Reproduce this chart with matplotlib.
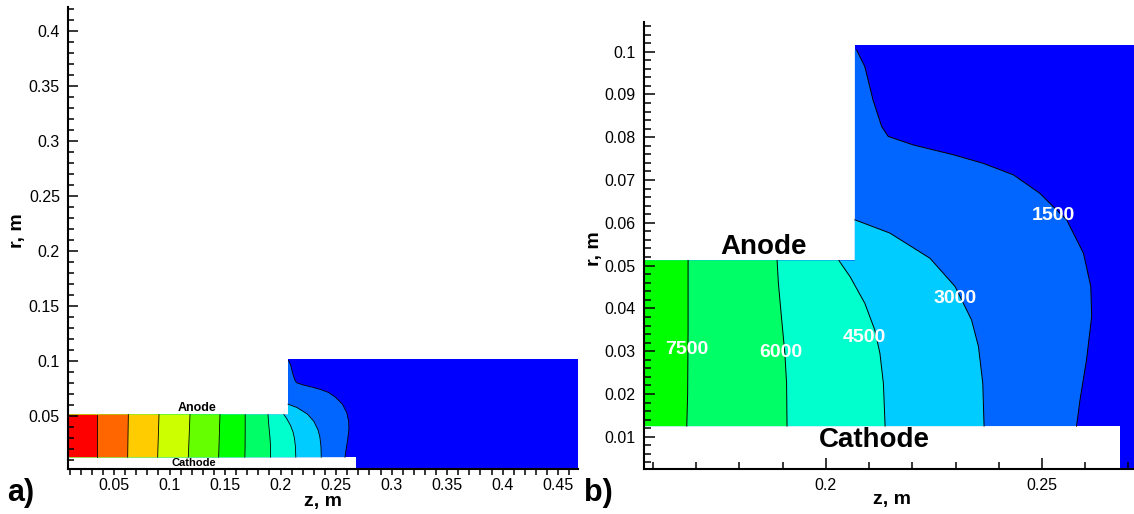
import matplotlib.pyplot as plt
from matplotlib.ticker import MultipleLocator, FuncFormatter

plt.rcParams['font.family'] = ['Liberation Sans', 'DejaVu Sans']

# Geometria del canal (m)
z_anode = 0.2067
r_anode = 0.0512
z_cathode = 0.268
r_cathode = 0.0125
r_outer = 0.1015
z_end = 0.48

# Niveles y colores (mayor valor -> mas a la izquierda)
levels = [1500, 3000, 4500, 6000, 7500, 9000, 10500, 12000, 13500, 15000]
colors = ['#0000ff', '#0066ff', '#00ccff', '#00ffcc', '#00ff66', '#00ff00',
          '#66ff00', '#ccff00', '#ffcc00', '#ff6600', '#ff0000']

# Isolineas: r (m) y z (m)
r_1500 = [0.0125, 0.0186, 0.0279, 0.0381, 0.0451, 0.0529, 0.0607, 0.0669, 0.0712,
          0.0739, 0.0759, 0.0782, 0.0802, 0.0825, 0.0887, 0.0965, 0.1004]
z_1500 = [0.2580, 0.2588, 0.2603, 0.2615, 0.2613, 0.2596, 0.2557, 0.2495, 0.2434,
          0.2364, 0.2295, 0.2202, 0.2144, 0.2129, 0.2109, 0.2090, 0.2071]
r_3000 = [0.0125, 0.0225, 0.0311, 0.0373, 0.0451, 0.0517, 0.0576, 0.0607]
z_3000 = [0.2366, 0.2363, 0.2353, 0.2337, 0.2299, 0.2241, 0.2148, 0.2067]
r_4500 = [0.0125, 0.0225, 0.0295, 0.0350, 0.0412, 0.0474, 0.0512]
z_4500 = [0.2137, 0.2133, 0.2125, 0.2113, 0.2090, 0.2056, 0.2030]
r_6000 = [0.0125, 0.0225, 0.0295, 0.0381, 0.0459, 0.0512]
z_6000 = [0.1910, 0.1909, 0.1905, 0.1897, 0.1890, 0.1887]
r_7500 = [0.0125, 0.0200, 0.0350, 0.0512]
z_7500 = [0.1678, 0.1680, 0.1681, 0.1681]
r_9000 = [0.0125, 0.0512]
z_9000 = [0.1442, 0.1454]
r_10500 = [0.0125, 0.0512]
z_10500 = [0.1169, 0.1184]
r_12000 = [0.0125, 0.0512]
z_12000 = [0.0893, 0.0905]
r_13500 = [0.0125, 0.0512]
z_13500 = [0.0623, 0.0629]
r_15000 = [0.0125, 0.0512]
z_15000 = [0.0350, 0.0350]

iso_r = [r_1500, r_3000, r_4500, r_6000, r_7500, r_9000, r_10500, r_12000, r_13500, r_15000]
iso_z = [z_1500, z_3000, z_4500, z_6000, z_7500, z_9000, z_10500, z_12000, z_13500, z_15000]

# Etiquetas de contorno en el panel b)
lab_vals = [7500, 6000, 4500, 3000, 1500]
lab_z = [0.1677, 0.1896, 0.2089, 0.2299, 0.2526]
lab_r = [0.0303, 0.0296, 0.0332, 0.0422, 0.0616]


def region_izquierda(z, r):
    # poligono a la izquierda de una isolinea, cerrado contra las paredes
    pz = list(z)
    pr = list(r)
    if r[-1] > r_anode:
        pz += [z_anode, z_anode]
        pr += [r[-1], r_anode]
    pz += [0, 0]
    pr += [r_anode, r_cathode]
    return pz, pr


def dibujar_campo(ax, lw):
    dom_z = [0, z_cathode, z_cathode, z_end, z_end, z_anode, z_anode, 0]
    dom_r = [r_cathode, r_cathode, 0, 0, r_outer, r_outer, r_anode, r_anode]
    ax.fill(dom_z, dom_r, color=colors[0], lw=0)
    for k in range(len(levels)):
        pz, pr = region_izquierda(iso_z[k], iso_r[k])
        ax.fill(pz, pr, color=colors[k + 1], lw=0)
    for k in range(len(levels)):
        ax.plot(iso_z[k], iso_r[k], color='black', lw=lw)


def estilo_ejes(ax):
    for s in ['top', 'right']:
        ax.spines[s].set_visible(False)
    for s in ['left', 'bottom']:
        ax.spines[s].set_linewidth(1.5)
    fmt = FuncFormatter(lambda v, p: f'{v:g}')
    ax.xaxis.set_major_formatter(fmt)
    ax.yaxis.set_major_formatter(fmt)
    ax.tick_params(which='both', labelsize=11.5, width=1.1)


fig = plt.figure(figsize=(11.34, 5.14), dpi=100)

# Panel a)
ax1 = fig.add_axes([0.0602, 0.087, 0.4497, 0.8994])
dibujar_campo(ax1, 0.6)
ax1.set_xlim(0.0088, 0.468)
ax1.set_ylim(0.0015, 0.4218)
estilo_ejes(ax1)
ax1.xaxis.set_major_locator(MultipleLocator(0.05))
ax1.xaxis.set_minor_locator(MultipleLocator(0.01))
ax1.yaxis.set_major_locator(MultipleLocator(0.05))
ax1.yaxis.set_minor_locator(MultipleLocator(0.01))
ax1.tick_params(axis='x', which='both', direction='out', length=4, pad=2)
ax1.tick_params(axis='y', which='major', direction='in', length=7, pad=6)
ax1.tick_params(axis='y', which='minor', direction='in', length=4)
ax1.text(0.1244, 0.057, 'Anode', fontsize=9, fontweight='bold', ha='center', va='center')
ax1.text(0.1214, 0.0075, 'Cathode', fontsize=8, fontweight='bold', ha='center', va='center')
ax1.set_xlabel('z, m', fontsize=14, fontweight='bold')
ax1.xaxis.set_label_coords(0.5, -0.07)
ax1.xaxis.label.set_verticalalignment('center')
ax1.set_ylabel('r, m', fontsize=14, fontweight='bold')
ax1.yaxis.set_label_coords(-0.1, 0.5155)
ax1.yaxis.label.set_verticalalignment('center')

# Panel b)
ax2 = fig.add_axes([0.5679, 0.087, 0.4321, 0.8708])
dibujar_campo(ax2, 0.7)
ax2.set_xlim(0.1579, 0.2713)
ax2.set_ylim(0.0024, 0.107)
estilo_ejes(ax2)
ax2.xaxis.set_major_locator(MultipleLocator(0.05))
ax2.xaxis.set_minor_locator(MultipleLocator(0.01))
ax2.yaxis.set_major_locator(MultipleLocator(0.01))
ax2.yaxis.set_minor_locator(MultipleLocator(0.002))
ax2.tick_params(which='major', direction='in', length=8, pad=6)
ax2.tick_params(which='minor', direction='in', length=5)
for v, z, r in zip(lab_vals, lab_z, lab_r):
    ax2.text(z, r, str(v), fontsize=14, fontweight='bold', color='white',
             ha='center', va='center')
ax2.text(0.1855, 0.0543, 'Anode', fontsize=20, fontweight='bold', ha='center', va='center')
ax2.text(0.2111, 0.0092, 'Cathode', fontsize=20, fontweight='bold', ha='center', va='center')
ax2.set_xlabel('z, m', fontsize=14, fontweight='bold')
ax2.xaxis.set_label_coords(0.5055, -0.0686)
ax2.xaxis.label.set_verticalalignment('center')
ax2.set_ylabel('r, m', fontsize=14, fontweight='bold')
ax2.yaxis.set_label_coords(-0.1, 0.494)
ax2.yaxis.label.set_verticalalignment('center')

fig.text(0.018, 0.041, 'a)', fontsize=22, fontweight='bold', ha='center', va='center')
fig.text(0.528, 0.041, 'b)', fontsize=22, fontweight='bold', ha='center', va='center')

fig.savefig('out.png', dpi=100)
